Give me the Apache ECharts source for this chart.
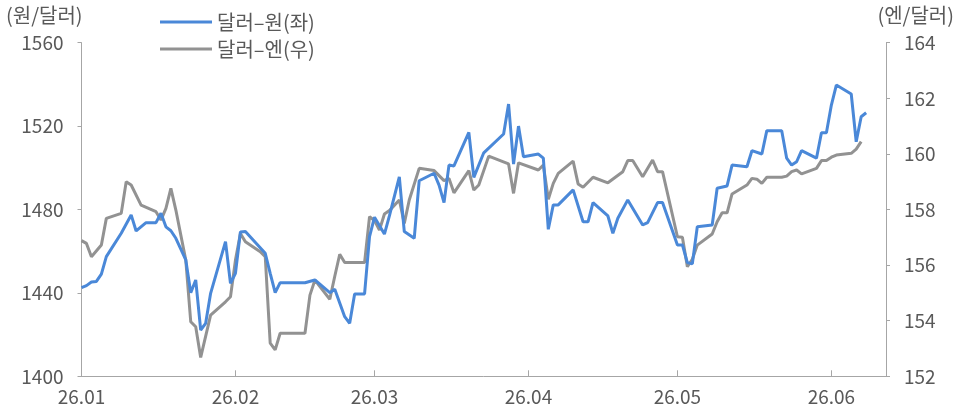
<!DOCTYPE html>
<html>
<head>
<meta charset="utf-8">
<script src="https://cdn.jsdelivr.net/npm/echarts@6/dist/echarts.min.js"></script>
<style>
  html, body { margin: 0; padding: 0; background: #fff; }
  #chart { width: 967px; height: 415px; }
</style>
</head>
<body>
<div id="chart"></div>
<script>
// 달러-원 (left axis)
const krwDates = [
  "2026-01-01", "2026-01-02", "2026-01-03", "2026-01-04", "2026-01-05", "2026-01-06", "2026-01-09", "2026-01-11",
  "2026-01-12", "2026-01-14", "2026-01-16", "2026-01-17", "2026-01-18", "2026-01-19", "2026-01-20", "2026-01-22",
  "2026-01-23", "2026-01-24", "2026-01-25", "2026-01-26", "2026-01-27", "2026-01-30", "2026-01-31", "2026-02-01",
  "2026-02-02", "2026-02-03", "2026-02-07", "2026-02-08", "2026-02-09", "2026-02-10", "2026-02-15", "2026-02-17",
  "2026-02-20", "2026-02-21", "2026-02-23", "2026-02-24", "2026-02-25", "2026-02-27", "2026-02-28", "2026-03-01",
  "2026-03-03", "2026-03-04", "2026-03-06", "2026-03-07", "2026-03-09", "2026-03-10", "2026-03-13", "2026-03-14",
  "2026-03-15", "2026-03-16", "2026-03-17", "2026-03-20", "2026-03-21", "2026-03-23", "2026-03-27", "2026-03-28",
  "2026-03-29", "2026-03-30", "2026-03-31", "2026-04-03", "2026-04-04", "2026-04-05", "2026-04-06", "2026-04-07",
  "2026-04-10", "2026-04-12", "2026-04-13", "2026-04-14", "2026-04-17", "2026-04-18", "2026-04-19", "2026-04-21",
  "2026-04-24", "2026-04-25", "2026-04-27", "2026-04-28", "2026-05-01", "2026-05-02", "2026-05-03", "2026-05-04",
  "2026-05-05", "2026-05-08", "2026-05-09", "2026-05-11", "2026-05-12", "2026-05-15", "2026-05-16", "2026-05-18",
  "2026-05-19", "2026-05-22", "2026-05-23", "2026-05-24", "2026-05-25", "2026-05-26", "2026-05-29", "2026-05-30",
  "2026-05-31", "2026-06-01", "2026-06-02", "2026-06-05", "2026-06-06", "2026-06-07", "2026-06-08"
];
const krwValues = [
  1442.5, 1443.5, 1445.2, 1445.5, 1449.0, 1457.4, 1468.6, 1477.4,
  1469.7, 1473.7, 1473.7, 1478.2, 1471.7, 1469.8, 1466.2, 1455.8,
  1440.1, 1446.2, 1422.2, 1425.4, 1439.8, 1464.6, 1444.6, 1449.4,
  1469.2, 1469.4, 1459.0, 1449.4, 1440.1, 1444.9, 1444.9, 1446.2,
  1440.1, 1441.7, 1428.6, 1425.4, 1439.5, 1439.5, 1467.0, 1476.3,
  1468.2, 1476.9, 1495.7, 1469.4, 1466.2, 1493.8, 1497.4, 1491.7,
  1483.3, 1501.3, 1500.9, 1517.0, 1495.4, 1507.2, 1516.2, 1530.6,
  1501.8, 1520.0, 1505.3, 1506.6, 1504.6, 1470.5, 1482.2, 1482.2,
  1489.4, 1474.1, 1474.1, 1483.3, 1476.9, 1468.6, 1475.8, 1484.6,
  1472.6, 1473.7, 1483.3, 1483.3, 1463.0, 1463.0, 1454.5, 1453.9,
  1471.7, 1472.6, 1490.2, 1491.3, 1501.3, 1500.5, 1508.2, 1506.6,
  1517.8, 1517.8, 1504.6, 1501.3, 1502.9, 1508.2, 1504.6, 1516.8,
  1516.8, 1530.1, 1539.7, 1535.4, 1512.5, 1524.5, 1526.4
];

// 달러-엔 (right axis)
const jpyDates = [
  "2026-01-01", "2026-01-02", "2026-01-03", "2026-01-05", "2026-01-06", "2026-01-09", "2026-01-10", "2026-01-11",
  "2026-01-13", "2026-01-16", "2026-01-17", "2026-01-18", "2026-01-19", "2026-01-20", "2026-01-22", "2026-01-23",
  "2026-01-24", "2026-01-25", "2026-01-27", "2026-01-30", "2026-01-31", "2026-02-01", "2026-02-02", "2026-02-03",
  "2026-02-06", "2026-02-07", "2026-02-08", "2026-02-09", "2026-02-10", "2026-02-15", "2026-02-16", "2026-02-17",
  "2026-02-20", "2026-02-21", "2026-02-22", "2026-02-23", "2026-02-27", "2026-02-28", "2026-03-01", "2026-03-02",
  "2026-03-03", "2026-03-04", "2026-03-06", "2026-03-07", "2026-03-08", "2026-03-10", "2026-03-13", "2026-03-15",
  "2026-03-16", "2026-03-17", "2026-03-20", "2026-03-21", "2026-03-22", "2026-03-24", "2026-03-28", "2026-03-29",
  "2026-03-30", "2026-04-03", "2026-04-04", "2026-04-05", "2026-04-06", "2026-04-07", "2026-04-10", "2026-04-11",
  "2026-04-12", "2026-04-14", "2026-04-17", "2026-04-20", "2026-04-21", "2026-04-22", "2026-04-24", "2026-04-26",
  "2026-04-27", "2026-04-28", "2026-05-01", "2026-05-02", "2026-05-03", "2026-05-04", "2026-05-05", "2026-05-08",
  "2026-05-09", "2026-05-10", "2026-05-11", "2026-05-12", "2026-05-15", "2026-05-16", "2026-05-17", "2026-05-18",
  "2026-05-19", "2026-05-22", "2026-05-23", "2026-05-24", "2026-05-25", "2026-05-26", "2026-05-29", "2026-05-30",
  "2026-05-31", "2026-06-01", "2026-06-02", "2026-06-05", "2026-06-06", "2026-06-07"
];
const jpyValues = [
  156.88, 156.78, 156.30, 156.72, 157.68, 157.86, 159.00, 158.88,
  158.16, 157.92, 157.62, 158.04, 158.76, 157.98, 156.18, 153.96,
  153.78, 152.68, 154.20, 154.68, 154.86, 156.18, 157.14, 156.84,
  156.48, 156.30, 153.19, 152.95, 153.55, 153.55, 154.92, 155.46,
  154.77, 155.60, 156.39, 156.09, 156.09, 157.74, 157.60, 157.26,
  157.84, 157.96, 158.34, 157.50, 158.34, 159.48, 159.40, 159.04,
  159.12, 158.60, 159.40, 158.70, 158.88, 159.92, 159.64, 158.58,
  159.68, 159.42, 159.60, 158.37, 158.94, 159.30, 159.74, 158.92,
  158.80, 159.16, 158.96, 159.36, 159.76, 159.76, 159.18, 159.78,
  159.36, 159.36, 157.02, 157.00, 155.94, 156.21, 156.72, 157.12,
  157.56, 157.88, 157.88, 158.56, 158.88, 159.12, 159.09, 158.94,
  159.16, 159.16, 159.20, 159.36, 159.42, 159.28, 159.48, 159.76,
  159.76, 159.88, 159.96, 160.02, 160.17, 160.44
];

const monthStarts = ["2026-01-01", "2026-02-01", "2026-03-01", "2026-04-01", "2026-05-01", "2026-06-01"];
const axisStart = "2026-01-01";
const axisEnd = "2026-06-12";

const seriesNames = ["달러–원(좌)", "달러–엔(우)"];
const textColor = "#595959";
const axisColor = "#a6a6a6";
const fontFamily = "'Noto Sans CJK KR', 'Noto Sans', sans-serif";

// date string -> timestamp (UTC, so day spacing is exact)
const ts = (s) => Date.parse(s + "T00:00:00Z");
const pairs = (dates, values) => dates.map((d, i) => [ts(d), values[i]]);
const monthTicks = monthStarts.map(ts);

const chart = echarts.init(document.getElementById("chart"), null, { renderer: "canvas" });

chart.setOption({
  animation: false,
  backgroundColor: "#fff",
  textStyle: { fontFamily: fontFamily },
  grid: { left: 81.5, right: 81, top: 42.7, bottom: 38.7 },
  legend: {
    orient: "vertical",
    left: 155,
    top: 7,
    icon: "rect",
    itemWidth: 52,
    itemHeight: 3,
    itemGap: 7,
    textStyle: { color: textColor, fontSize: 20, fontFamily: fontFamily },
    data: seriesNames,
  },
  graphic: [
    {
      type: "text",
      left: 6,
      top: 5,
      style: { text: "(원/달러)", fill: textColor, font: "20px " + fontFamily },
    },
    {
      type: "text",
      right: 13,
      top: 5,
      style: { text: "(엔/달러)", fill: textColor, font: "20px " + fontFamily },
    },
  ],
  xAxis: {
    type: "value",
    min: ts(axisStart),
    max: ts(axisEnd),
    axisLine: { show: true, onZero: false, lineStyle: { color: axisColor, width: 1 } },
    axisTick: {
      show: true,
      inside: true,
      length: 6,
      customValues: monthTicks,
      lineStyle: { color: axisColor },
    },
    axisLabel: {
      color: textColor,
      fontSize: 19,
      margin: 11,
      customValues: monthTicks,
      formatter: function (value) {
        const d = new Date(value);
        return String(d.getUTCFullYear()).slice(2) + "." + String(d.getUTCMonth() + 1).padStart(2, "0");
      },
    },
    splitLine: { show: false },
  },
  yAxis: [
    {
      type: "value",
      position: "left",
      min: 1400,
      max: 1560,
      interval: 40,
      axisLine: { show: true, lineStyle: { color: axisColor, width: 1 } },
      axisTick: { show: true, length: 4, lineStyle: { color: axisColor } },
      axisLabel: { color: textColor, fontSize: 19, margin: 18, formatter: (v) => String(v) },
      splitLine: { show: false },
    },
    {
      type: "value",
      position: "right",
      min: 152,
      max: 164,
      interval: 2,
      axisLine: { show: true, lineStyle: { color: axisColor, width: 1 } },
      axisTick: { show: true, length: 4, lineStyle: { color: axisColor } },
      axisLabel: { color: textColor, fontSize: 19, margin: 18, formatter: (v) => String(v) },
      splitLine: { show: false },
    },
  ],
  series: [
    {
      name: seriesNames[0],
      type: "line",
      yAxisIndex: 0,
      symbol: "none",
      lineStyle: { color: "#4a88d8", width: 3 },
      itemStyle: { color: "#4a88d8" },
      data: pairs(krwDates, krwValues),
      z: 3,
    },
    {
      name: seriesNames[1],
      type: "line",
      yAxisIndex: 1,
      symbol: "none",
      lineStyle: { color: "#929292", width: 3 },
      itemStyle: { color: "#929292" },
      data: pairs(jpyDates, jpyValues),
      z: 2,
    },
  ],
});
</script>
</body>
</html>
